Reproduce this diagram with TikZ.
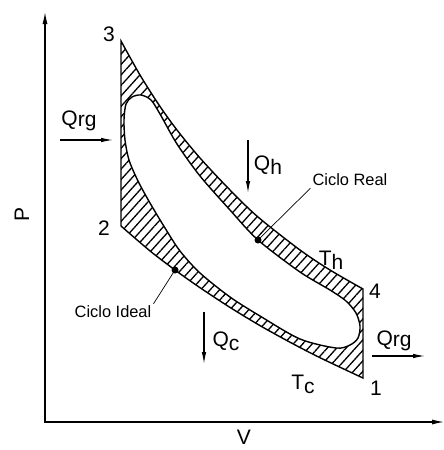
\documentclass[tikz,border=0pt]{standalone}
\usepackage{fontspec}
\setmainfont{Liberation Sans}
\usetikzlibrary{arrows.meta,patterns.meta}
\newcommand\lowsub[1]{\raisebox{-4pt}{#1}}
\tikzset{
  cyc/.style={line width=1.4pt,even odd rule,pattern={Lines[angle=48,distance=7pt,line width=1.3pt]}},
  axis/.style={{Latex[length=12pt,width=5pt]}-{Latex[length=12pt,width=5pt]},line width=1.1pt},
  heat/.style={-{Latex[length=12pt,width=4.5pt]},line width=1.1pt},
  lead/.style={line width=0.7pt},
  dot/.style={circle,fill,inner sep=0pt,minimum size=7pt},
  lbl/.style={font=\fontsize{21}{23}\selectfont,inner sep=1pt},
  note/.style={font=\fontsize{16.4}{18}\selectfont,inner sep=2pt}
}
\begin{document}
\begin{tikzpicture}[x=1pt,y=-1pt]
  \useasboundingbox (0,0) rectangle (444,450);
  % axes
  \coordinate (ytip) at (45,12);
  \coordinate (org) at (45,422);
  \coordinate (xtip) at (444,422);
  \draw[axis] (ytip) -- (org) -- (xtip);
  \node[lbl,rotate=90] (pax) at (22,214) {P};
  \node[lbl] (vax) at (244,437) {V};

  % corners of the ideal cycle
  \coordinate (p1) at (363,378);
  \coordinate (p2) at (121,226);
  \coordinate (p3) at (121,41);
  \coordinate (p4) at (363,289);

  % ideal cycle minus real cycle, hatched
  \draw[cyc] plot[smooth] coordinates {(p3) (140,75) (159,105) (177,130) (200,158) (230,190) (258,217) (300,250) (330,270) (p4)}
    -- plot[smooth] coordinates {(p1) (320,357.7) (290,342.2) (260,325.6) (230,307.4) (200,287.7) (175,270) (150,250.9) (p2)}
    -- cycle
    plot[smooth cycle] coordinates {(124,120) (126,104) (132,97) (141,95) (151,100) (160,114) (177,144) (200,176)
      (230,210) (258,240) (300,272) (330,290) (346,301) (356,313) (360,326) (358,338) (350,345) (336,348)
      (300,339) (260,316) (230,297) (200,273) (180,251) (165,228) (150,203) (138,181) (129,160) (125,140)};

  \node[lbl] (n3) at (109,34) {3};
  \node[lbl] (n2) at (104,228) {2};
  \node[lbl] (n4) at (375,291) {4};
  \node[lbl] (n1) at (376,388) {1};
  \node[lbl] (th) at (331,260) {T\lowsub{h}};
  \node[lbl] (tc) at (303,384) {T\lowsub{c}};

  % heat flows
  \coordinate (rga) at (60,140);
  \coordinate (rgb) at (113,140);
  \draw[heat] (rga) -- (rgb);
  \node[lbl] (qrgin) at (79,121) {Q\raisebox{-1pt}{rg}};
  \coordinate (qha) at (248,140);
  \coordinate (qhb) at (248,193);
  \draw[heat] (qha) -- (qhb);
  \node[lbl] (qh) at (268,165) {Q\lowsub{h}};
  \coordinate (qca) at (204,312);
  \coordinate (qcb) at (204,364);
  \draw[heat] (qca) -- (qcb);
  \node[lbl] (qc) at (226,341) {Q\lowsub{c}};
  \coordinate (rgc) at (372,356);
  \coordinate (rgd) at (425,356);
  \draw[heat] (rgc) -- (rgd);
  \node[lbl] (qrgout) at (394,341) {Q\raisebox{-1pt}{rg}};

  % call-outs
  \node[dot] (realpt) at (258,240) {};
  \node[dot] (idealpt) at (175,270) {};
  \node[note] (real) at (350,180) {Ciclo Real};
  \node[note] (ideal) at (113,312) {Ciclo Ideal};
  \draw[lead] (real.south west) -- (realpt.center);
  \draw[lead] (ideal.north east) -- (idealpt.center);
\end{tikzpicture}
\end{document}
